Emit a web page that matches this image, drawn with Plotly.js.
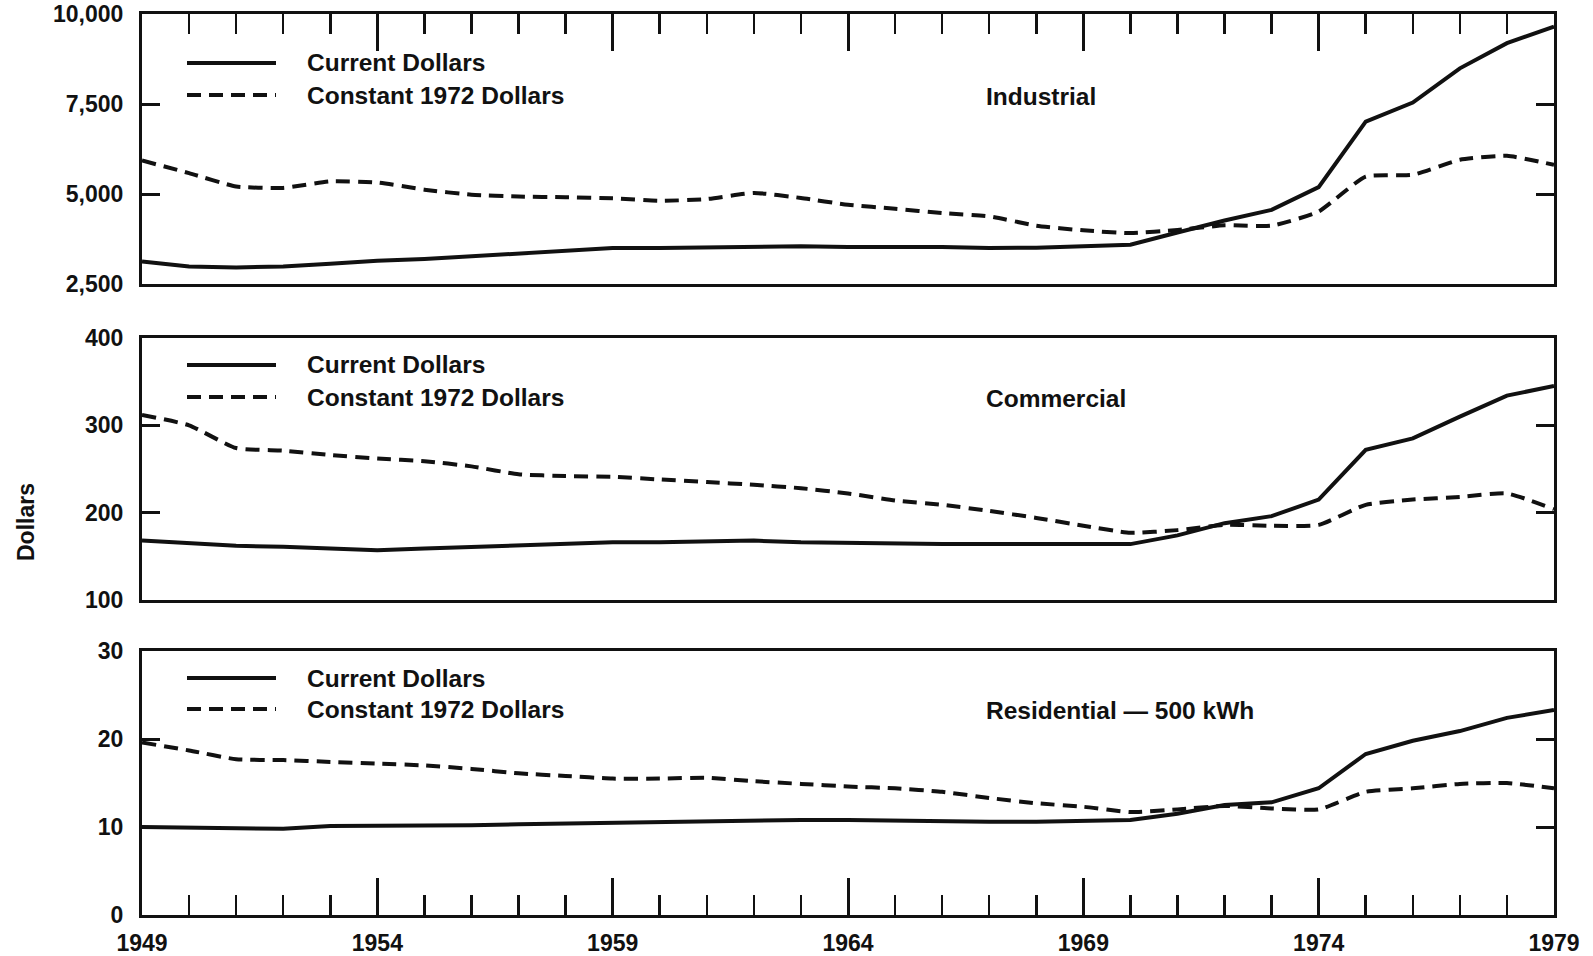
<!DOCTYPE html>
<html>
<head>
<meta charset="utf-8">
<script src="https://cdn.plot.ly/plotly-3.0.1.min.js"></script>
<style>html,body{margin:0;padding:0;background:#fff;}#chart{width:1593px;height:956px;}</style>
</head>
<body>
<div id="chart"></div>
<script>
const years = [1949,1950,1951,1952,1953,1954,1955,1956,1957,1958,1959,1960,1961,1962,1963,1964,1965,1966,1967,1968,1969,1970,1971,1972,1973,1974,1975,1976,1977,1978,1979];

const industrialCurrent  = [3127,2988,2960,2988,3063,3146,3194,3266,3341,3432,3499,3500,3510,3520,3550,3530,3540,3530,3500,3510,3550,3590,3930,4265,4560,5190,7010,7540,8490,9190,9650];
const industrialConstant = [5930,5580,5210,5170,5350,5320,5120,4980,4930,4910,4880,4810,4860,5030,4890,4700,4590,4470,4380,4120,3990,3915,4000,4130,4120,4515,5485,5533,5950,6060,5810];

const commercialCurrent  = [168,165,162,161,159,157,159,161,162,164,166,166,167,168,166,165,164,164,164,164,164,164,174,188,196,215,272,285,310,334,345];
const commercialConstant = [312,300,274,271,266,262,259,253,244,242,241,238,235,232,228,222,214,209,202,194,185,177,180,186,185,186,209,215,218,222,204];

const residentialCurrent  = [10.0,9.9,9.8,9.8,10.1,10.1,10.2,10.2,10.3,10.4,10.5,10.6,10.7,10.8,10.8,10.8,10.7,10.6,10.6,10.6,10.7,10.8,11.5,12.5,12.8,14.4,18.3,19.8,20.9,22.4,23.3];
const residentialConstant = [19.6,18.7,17.7,17.6,17.4,17.2,17.0,16.6,16.1,15.8,15.5,15.5,15.6,15.2,14.9,14.6,14.4,14.0,13.3,12.7,12.3,11.7,12.0,12.4,12.1,12.0,14.0,14.4,14.9,15.0,14.4];

const industrialTicks = [2500,5000,7500,10000];
const industrialTickText = ["2,500","5,000","7,500","10,000"];
const commercialTicks = [100,200,300,400];
const residentialTicks = [0,10,20,30];

const seriesNames = ["Current Dollars","Constant 1972 Dollars"];
const panelTitles = ["Industrial","Commercial","Residential \u2014 500 kWh"];
const yAxisTitle = "Dollars";

// layout geometry (pixels)
const L = 142, R = 39, T = 14, B = 41, W = 1593 - L - R, H = 956 - T - B;
const px = v => (v - L) / W;
const py = v => (956 - B - v) / H;

const FONT = "Liberation Sans, Arial, sans-serif";
const INK = "#111111";
const DASH = "14px,8px";

function lineTrace(y, xa, ya, dashed) {
  return {
    x: years, y: y, xaxis: xa, yaxis: ya, mode: "lines", showlegend: false,
    hoverinfo: "skip",
    line: {color: INK, width: 4, dash: dashed ? DASH : "solid",
           shape: dashed ? "spline" : "linear", smoothing: 0.5}
  };
}

const data = [
  lineTrace(industrialCurrent, "x", "y", false),
  lineTrace(industrialConstant, "x", "y", true),
  lineTrace(commercialCurrent, "x2", "y2", false),
  lineTrace(commercialConstant, "x2", "y2", true),
  lineTrace(residentialCurrent, "x3", "y3", false),
  lineTrace(residentialConstant, "x3", "y3", true)
];

const tickFontY = {family: FONT, size: 23, color: INK, weight: 700};
const tickFontX = {family: FONT, size: 23, color: INK, weight: 700};
const textFont = {family: FONT, size: 24.5, color: INK, weight: 700};

function xAxis(anchor, opts) {
  return Object.assign({
    anchor: anchor, domain: [0, 1], range: [1949, 1979],
    tick0: 1949, dtick: 5, showgrid: false, zeroline: false,
    showline: true, linewidth: 3, linecolor: INK, mirror: true,
    ticks: "", showticklabels: false, tickcolor: INK
  }, opts);
}
const xTickOpts = {
  ticks: "inside", ticklen: 37, tickwidth: 3,
  minor: {ticks: "inside", dtick: 1, ticklen: 20, tickwidth: 2.5, tickcolor: INK, showgrid: false}
};

function yAxis(anchor, domain, range, tickvals, ticktext) {
  return {
    anchor: anchor, domain: domain, range: range,
    tickvals: tickvals, ticktext: ticktext,
    showgrid: false, zeroline: false,
    showline: true, linewidth: 3, linecolor: INK, mirror: "ticks",
    ticks: "inside", ticklen: 18, tickwidth: 3, tickcolor: INK,
    tickfont: tickFontY, ticklabelstandoff: 11
  };
}

const shapes = [];
const annotations = [];
function legendBlock(yCur, yCon, titleY, title) {
  shapes.push({type: "line", xref: "paper", yref: "paper",
    x0: px(187), x1: px(276), y0: py(yCur), y1: py(yCur),
    line: {color: INK, width: 4}});
  shapes.push({type: "line", xref: "paper", yref: "paper",
    x0: px(187), x1: px(276), y0: py(yCon), y1: py(yCon),
    line: {color: INK, width: 4, dash: DASH}});
  annotations.push({xref: "paper", yref: "paper", x: px(305), y: py(yCur),
    xanchor: "left", yanchor: "middle", showarrow: false, text: seriesNames[0],
    font: textFont});
  annotations.push({xref: "paper", yref: "paper", x: px(305), y: py(yCon),
    xanchor: "left", yanchor: "middle", showarrow: false, text: seriesNames[1],
    font: textFont});
  annotations.push({xref: "paper", yref: "paper", x: px(984), y: py(titleY),
    xanchor: "left", yanchor: "middle", showarrow: false, text: title,
    font: textFont});
}
legendBlock(63, 95, 96, panelTitles[0]);
legendBlock(365, 397, 398, panelTitles[1]);
legendBlock(678, 709, 710, panelTitles[2]);

annotations.push({xref: "paper", yref: "paper", x: px(26), y: py(522),
  xanchor: "center", yanchor: "middle", showarrow: false, text: yAxisTitle,
  textangle: -90, font: {family: FONT, size: 23, color: INK, weight: 700}});

const layout = {
  width: 1593, height: 956,
  margin: {l: L, r: R, t: T, b: B, pad: 0},
  paper_bgcolor: "#ffffff", plot_bgcolor: "#ffffff",
  showlegend: false,
  xaxis: xAxis("y", Object.assign({side: "top"}, xTickOpts)),
  xaxis2: xAxis("y2", {}),
  xaxis3: xAxis("y3", Object.assign({side: "bottom", showticklabels: true, tickfont: tickFontX, ticklabelstandoff: 5}, xTickOpts)),
  yaxis: yAxis("x", [py(284), 1], [2500, 10000], industrialTicks, industrialTickText),
  yaxis2: yAxis("x2", [py(600), py(338)], [100, 400], commercialTicks, commercialTicks.map(String)),
  yaxis3: yAxis("x3", [0, py(651)], [0, 30], residentialTicks, residentialTicks.map(String)),
  shapes: shapes,
  annotations: annotations
};

Plotly.newPlot("chart", data, layout, {staticPlot: true, displayModeBar: false});
</script>
</body>
</html>
